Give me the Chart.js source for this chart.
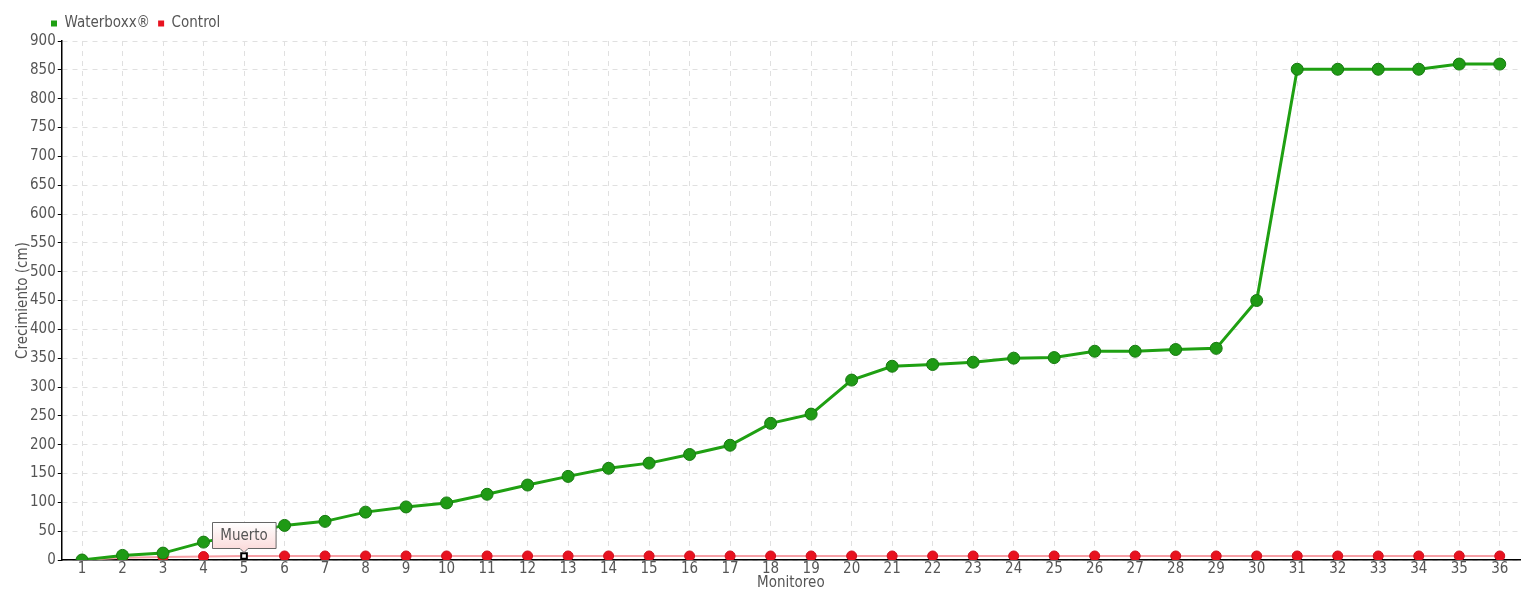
<!DOCTYPE html>
<html>
<head>
<meta charset="utf-8">
<script src="https://cdn.jsdelivr.net/npm/chart.js@4/dist/chart.umd.min.js"></script>
<style>
  html, body { margin: 0; padding: 0; background: #fff; }
  #wrap { width: 1540px; height: 600px; }
</style>
</head>
<body>
<div id="wrap"><canvas id="myChart"></canvas></div>
<script>
// monitoring rounds 1..36
let labels = [];
for (let i = 1; i <= 36; i++) labels.push(String(i));

const waterboxx = [0, 8, 12, 31, 45, 60, 67, 83, 92, 99, 114, 130, 145, 159, 168, 183, 199, 237,
    253, 312, 336, 339, 343, 350, 351, 362, 362, 365, 367, 450, 851, 851, 851, 851, 860, 860];
const control = [0, 4, 5, 6, 7, 7, 7, 7, 7, 7, 7, 7, 7, 7, 7, 7, 7, 7,
    7, 7, 7, 7, 7, 7, 7, 7, 7, 7, 7, 7, 7, 7, 7, 7, 7, 7];
// note on the control series (index -> text)
const controlNotes = { 4: 'Muerto' };

const FONT = "'Liberation Sans Narrow', 'DejaVu Sans Condensed', sans-serif";
Chart.defaults.font.family = FONT;
Chart.defaults.color = '#555';

// draws the fixed "Muerto" callout
const notePlugin = {
    id: 'notes',
    afterDatasetsDraw(chart) {
        const ctx = chart.ctx;
        const meta = chart.getDatasetMeta(1);
        for (const k in controlNotes) {
            const pt = meta.data[k];
            const text = controlNotes[k];
            ctx.save();
            ctx.font = '15px ' + FONT;
            const w = ctx.measureText(text).width + 16;
            const h = 26;
            const x = Math.round(pt.x - w / 2) + 0.5;
            const y = Math.round(pt.y - 8 - h) + 0.5;
            const g = ctx.createLinearGradient(0, y, 0, y + h);
            g.addColorStop(0, '#ffffff');
            g.addColorStop(1, '#fbdcdc');
            ctx.beginPath();
            ctx.moveTo(x, y);
            ctx.lineTo(x + w, y);
            ctx.lineTo(x + w, y + h);
            ctx.lineTo(pt.x + 4, y + h);
            ctx.lineTo(pt.x, y + h + 4);
            ctx.lineTo(pt.x - 4, y + h);
            ctx.lineTo(x, y + h);
            ctx.closePath();
            ctx.fillStyle = g;
            ctx.fill();
            ctx.strokeStyle = '#666';
            ctx.lineWidth = 1;
            ctx.stroke();
            ctx.fillStyle = '#555';
            ctx.textAlign = 'center';
            ctx.textBaseline = 'middle';
            ctx.fillText(text, pt.x, y + h / 2 + 1);
            ctx.restore();
        }
    }
};

// legend starts near the plot, not at the canvas edge
const legendShift = {
    id: 'legendShift',
    afterLayout(chart) {
        chart.legend.left = 43;
    }
};

let ctx = document.getElementById('myChart').getContext('2d');
let chart = new Chart(ctx, {
    type: 'line',
    data: {
        labels: labels,
        datasets: [{
            label: 'Waterboxx®',
            data: waterboxx,
            borderColor: '#1fa012',
            backgroundColor: '#1fa012',
            borderWidth: 3,
            pointRadius: 6,
            pointHoverRadius: 6,
            pointBackgroundColor: '#1f9a15',
            pointBorderColor: '#177a10',
            pointBorderWidth: 1,
            tension: 0
        }, {
            label: 'Control',
            data: control,
            borderColor: '#f7a0a6',
            backgroundColor: '#e8121f',
            borderWidth: 2,
            pointHoverRadius: 5,
            pointBackgroundColor: control.map((v, i) => controlNotes[i] ? '#ffffff' : '#e8121f'),
            pointBorderColor: control.map((v, i) => controlNotes[i] ? '#000000' : '#d01020'),
            pointBorderWidth: control.map((v, i) => controlNotes[i] ? 2 : 1),
            pointStyle: control.map((v, i) => controlNotes[i] ? 'rect' : 'circle'),
            pointRadius: control.map((v, i) => controlNotes[i] ? 4 : 5),
            tension: 0
        }]
    },
    options: {
        responsive: true,
        maintainAspectRatio: false,
        animation: false,
        layout: { padding: { left: 14, right: 20, top: 8, bottom: 8 } },
        plugins: {
            tooltip: { enabled: false },
            legend: {
                align: 'start',
                labels: {
                    boxWidth: 6,
                    boxHeight: 6,
                    padding: 8,
                    font: { size: 15 },
                    color: '#555',
                    generateLabels(ch) {
                        return ch.data.datasets.map((ds, i) => ({
                            text: ds.label,
                            fillStyle: ds.backgroundColor,
                            strokeStyle: ds.backgroundColor,
                            fontColor: '#555',
                            lineWidth: 0,
                            hidden: false,
                            datasetIndex: i
                        }));
                    }
                }
            }
        },
        scales: {
            x: {
                offset: true,
                grid: {
                    offset: false,
                    color: '#e0e0e0',
                    drawTicks: false
                },
                border: { color: '#000', width: 1.5, dash: [5, 5] },
                ticks: { font: { size: 15 }, color: '#555', padding: 0, maxRotation: 0, autoSkip: false },
                title: { display: true, text: 'Monitoreo', font: { size: 15 }, color: '#555', padding: { top: -4, bottom: 0 } }
            },
            y: {
                min: 0,
                max: 900,
                grid: {
                    color: '#e0e0e0',
                    tickColor: '#000',
                    tickLength: 4,
                    tickBorderDash: []
                },
                border: { color: '#000', width: 1.5, dash: [5, 5] },
                ticks: { stepSize: 50, font: { size: 15 }, color: '#555', padding: 2 },
                title: { display: true, text: 'Crecimiento (cm)', font: { size: 15 }, color: '#555', padding: { top: 0, bottom: -4 } }
            }
        }
    },
    plugins: [notePlugin, legendShift]
});
</script>
</body>
</html>
